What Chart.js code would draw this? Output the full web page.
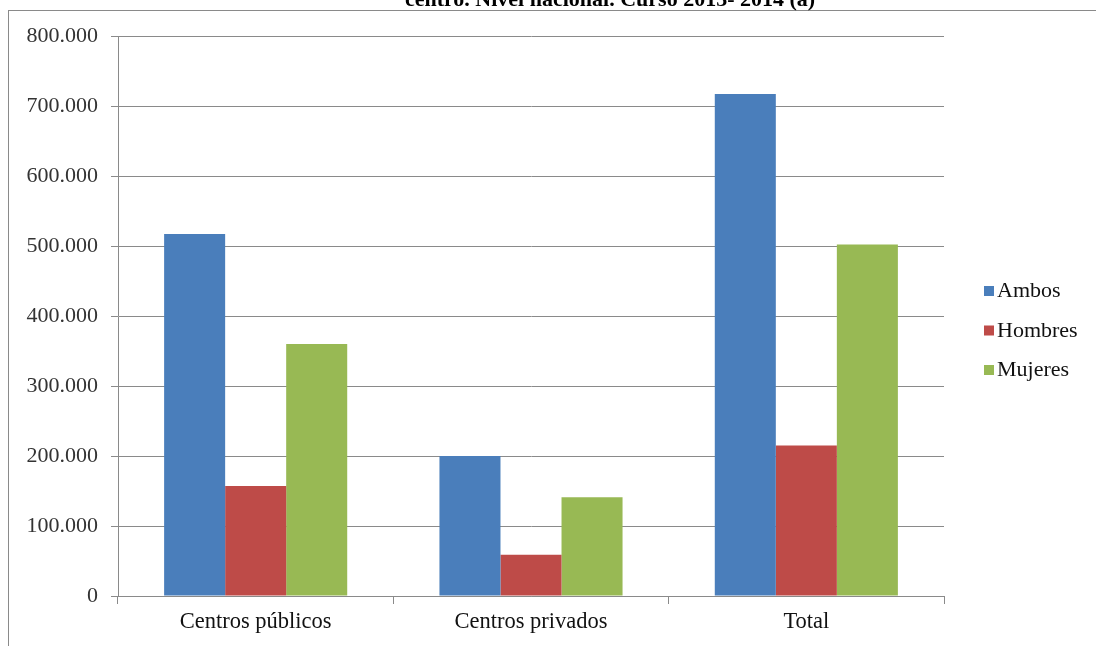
<!DOCTYPE html>
<html>
    <head>
        <meta charset="utf-8">
        <title>Alumnado por sexo y titularidad del centro</title>
        <script src="https://cdn.jsdelivr.net/npm/chart.js@4.4.0/dist/chart.umd.min.js"></script>
        <style>
            html, body {
                margin: 0;
                padding: 0;
                background: #fff;
            }
            #vis {
                display: block;
            }
        </style>
    </head>
    <body>
        <canvas id="vis" width="1096" height="646"></canvas>
        <script>
            const titleText = 'centro. Nivel nacional. Curso 2013- 2014 (a)';
            const categories = ['Centros públicos', 'Centros privados', 'Total'];
            const seriesNames = ['Ambos', 'Hombres', 'Mujeres'];
            const ambos = [517000, 200000, 717000];
            const hombres = [157000, 59000, 215000];
            const mujeres = [360000, 141000, 502000];
            const colors = ['#4A7EBB', '#BE4B48', '#98B954'];

            const serif = '"Liberation Serif", "Times New Roman", serif';

            function fmt(v) {
                return String(v).replace(/\B(?=(\d{3})+(?!\d))/g, '.');
            }

            // frame, clipped title and legend drawn on the canvas
            const decor = {
                id: 'decor',
                beforeDraw(chart) {
                    const ctx = chart.ctx;
                    ctx.save();
                    ctx.fillStyle = '#fff';
                    ctx.fillRect(0, 0, chart.width, chart.height);
                    ctx.strokeStyle = '#8a8a8a';
                    ctx.lineWidth = 1;
                    ctx.strokeRect(8.5, 10.5, 1200, 1000);
                    ctx.fillStyle = '#000';
                    ctx.font = 'bold 22px ' + serif;
                    ctx.textAlign = 'center';
                    ctx.textBaseline = 'alphabetic';
                    ctx.fillText(titleText, 610, 6);
                    ctx.restore();
                },
                afterDraw(chart) {
                    const ctx = chart.ctx;
                    ctx.save();
                    ctx.font = '22px ' + serif;
                    ctx.textBaseline = 'alphabetic';
                    ctx.textAlign = 'left';
                    chart.data.datasets.forEach((ds, i) => {
                        const base = 297 + i * 39.5;
                        ctx.fillStyle = ds.backgroundColor;
                        ctx.fillRect(984, base - 11, 10, 10);
                        ctx.fillStyle = '#111';
                        ctx.fillText(ds.label, 997, base);
                    });
                    ctx.restore();
                }
            };

            const datasets = [ambos, hombres, mujeres].map((data, i) => ({
                label: seriesNames[i],
                data,
                backgroundColor: colors[i],
                borderWidth: 0,
                categoryPercentage: 0.665,
                barPercentage: 1
            }));

            new Chart(document.getElementById('vis'), {
                type: 'bar',
                data: { labels: categories, datasets },
                plugins: [decor],
                options: {
                    responsive: false,
                    animation: false,
                    devicePixelRatio: 1,
                    layout: { padding: { top: 36, right: 152, left: 0, bottom: 0 } },
                    plugins: {
                        legend: { display: false },
                        tooltip: { enabled: false }
                    },
                    scales: {
                        x: {
                            afterFit: (s) => { s.height = 50; },
                            grid: {
                                display: true,
                                drawOnChartArea: false,
                                offset: true,
                                tickLength: 8,
                                color: '#8a8a8a'
                            },
                            border: { color: '#8a8a8a' },
                            ticks: {
                                color: '#111',
                                padding: 5,
                                font: { family: serif, size: 22.5 }
                            }
                        },
                        y: {
                            min: 0,
                            max: 800000,
                            afterFit: (s) => { s.width = 118; },
                            grid: {
                                color: '#8a8a8a',
                                tickLength: 7
                            },
                            border: { color: '#8a8a8a' },
                            ticks: {
                                stepSize: 100000,
                                color: '#333',
                                padding: 13,
                                font: { family: serif, size: 22 },
                                callback: (v) => fmt(v)
                            }
                        }
                    }
                }
            });
        </script>
    </body>
</html>
